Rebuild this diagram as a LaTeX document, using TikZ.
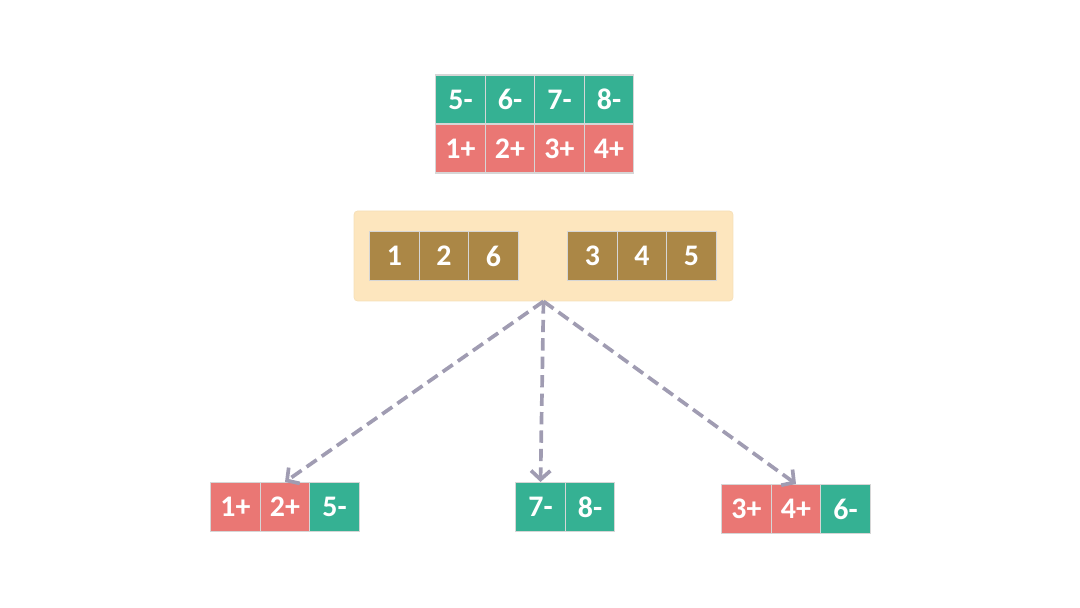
\documentclass[tikz,border=0pt]{standalone}
\usepackage{fontspec}
\setmainfont{Carlito}
\usetikzlibrary{arrows.meta}

\definecolor{cellgreen}{HTML}{35B193}
\definecolor{cellred}{HTML}{EA7774}
\definecolor{cellbrown}{HTML}{AB8746}
\definecolor{boxyellow}{HTML}{FDE6BE}
\definecolor{cellline}{HTML}{D6D6D6}
\definecolor{arrowgray}{HTML}{A09CB2}

\begin{document}
\begin{tikzpicture}[
  x=0.02cm, y=0.02cm,
  >={Straight Barb[length=5pt,width=11pt]},
  cell/.style={draw=cellline, line width=0.6pt, minimum width=0.99cm,
    minimum height=0.98cm, inner sep=0pt, text=white,
    font=\bfseries\fontsize{17}{17}\selectfont},
  arrowline/.style={->, draw=arrowgray, line width=2.1pt,
    dash pattern=on 7pt off 3.5pt}
]
\useasboundingbox (0,0) rectangle (1080,608);
\def\w{49.5}

% top table: green row over red row
\foreach \lab [count=\i] in {5-,6-,7-,8-} {
  \node[cell,fill=cellgreen] (g\i) at ({411+\w*\i},508.5) {\lab};
}
\foreach \lab [count=\i] in {1+,2+,3+,4+} {
  \node[cell,fill=cellred] (r\i) at ({411+\w*\i},459.5) {\lab};
}

% yellow box with two groups
\node[fill=boxyellow, draw=boxyellow!85!black!20!boxyellow, rounded corners=2pt,
  minimum width=7.58cm, minimum height=1.8cm, inner sep=0pt] (box) at (543.5,352) {};
\foreach \lab [count=\i] in {1,2,6} {
  \node[cell,fill=cellbrown] (a\i) at ({345+\w*\i},352) {\lab};
}
\foreach \lab [count=\i] in {3,4,5} {
  \node[cell,fill=cellbrown] (b\i) at ({543+\w*\i},352) {\lab};
}

% bottom groups
\node[cell,fill=cellred]   (l1) at (235.5,101) {1+};
\node[cell,fill=cellred]   (l2) at (285,101)   {2+};
\node[cell,fill=cellgreen] (l3) at (334.5,101) {5-};

\node[cell,fill=cellgreen] (m1) at (540.5,101) {7-};
\node[cell,fill=cellgreen] (m2) at (590,101)   {8-};

\node[cell,fill=cellred]   (q1) at (746.5,99)  {3+};
\node[cell,fill=cellred]   (q2) at (796,99)    {4+};
\node[cell,fill=cellgreen] (q3) at (845.5,99)  {6-};

% arrows
\draw[arrowline] (box.south) -- (l2.north);
\draw[arrowline] (box.south) -- (m1.north);
\draw[arrowline] (box.south) -- (q2.north);

\end{tikzpicture}
\end{document}
